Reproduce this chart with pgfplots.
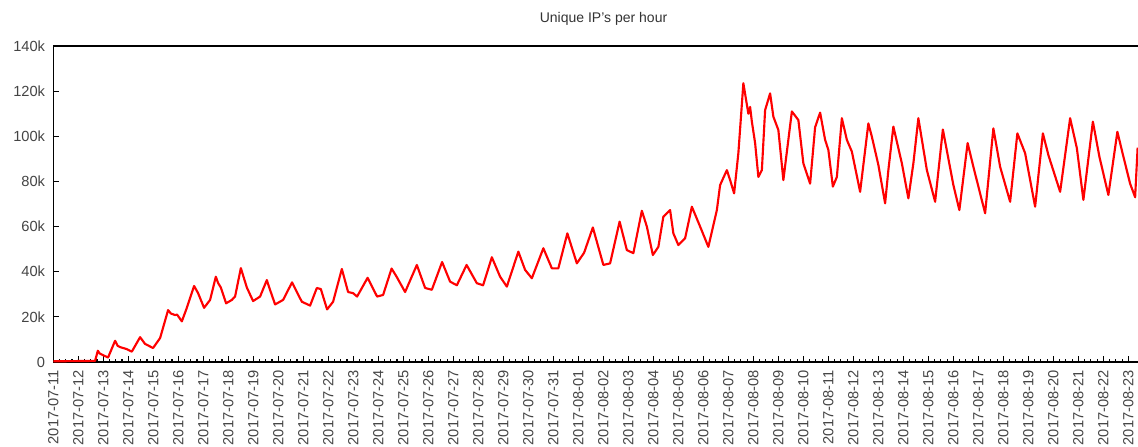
\documentclass[border=0pt]{standalone}
\usepackage{pgfplots}
\pgfplotsset{compat=1.18}
\usepackage{fontspec}
\setmainfont{Liberation Sans}
\definecolor{txt}{HTML}{444444}
\pgfplotstableread{
d v
0.00 0.3
1.67 0.5
1.78 5.0
1.85 3.8
1.99 3.0
2.19 2.0
2.47 9.4
2.57 7.2
2.67 6.6
2.94 5.7
3.14 4.6
3.47 11.0
3.67 8.0
3.99 6.2
4.27 10.6
4.59 23.0
4.70 21.5
4.87 20.8
4.95 21.0
5.14 18.0
5.34 24.0
5.63 33.7
5.79 30.5
6.03 24.0
6.27 27.5
6.50 37.8
6.59 35.0
6.70 33.0
6.91 26.0
7.14 27.5
7.27 29.0
7.50 41.6
7.74 33.0
7.99 27.0
8.27 29.0
8.54 36.3
8.62 33.5
8.87 25.5
9.19 27.5
9.55 35.3
9.74 31.0
9.94 26.7
10.27 25.0
10.54 32.8
10.70 32.3
10.95 23.3
11.19 26.7
11.54 41.2
11.79 31.0
11.99 30.5
12.15 29.0
12.57 37.3
12.95 29.0
13.19 29.7
13.53 41.4
13.73 37.8
14.07 31.0
14.54 43.0
14.87 32.8
15.14 32.0
15.55 44.3
15.87 35.6
16.14 34.0
16.53 43.0
16.94 34.9
17.19 34.0
17.54 46.4
17.87 37.8
18.14 33.4
18.60 48.9
18.87 40.8
19.14 37.1
19.60 50.4
19.94 41.5
20.20 41.5
20.56 57.0
20.94 43.7
21.23 48.4
21.58 59.6
22.00 43.0
22.27 43.7
22.65 62.2
22.94 49.6
23.20 48.2
23.54 67.0
23.74 60.0
23.98 47.4
24.20 51.0
24.40 64.4
24.67 67.3
24.80 57.0
25.00 51.8
25.27 54.8
25.54 68.8
25.87 60.0
26.20 51.0
26.54 67.3
26.67 78.4
26.94 85.0
27.07 80.6
27.23 74.7
27.40 92.5
27.60 123.5
27.80 110.0
27.87 113.0
27.94 106.5
28.07 97.0
28.20 82.0
28.34 85.0
28.47 111.6
28.67 119.0
28.80 108.7
29.00 102.8
29.20 80.6
29.54 111.0
29.80 107.2
30.00 88.0
30.27 79.0
30.47 104.0
30.67 110.5
30.87 98.4
31.00 94.0
31.18 77.7
31.34 82.0
31.54 108.0
31.74 98.4
31.94 93.2
32.27 75.4
32.60 105.7
32.74 99.8
33.00 87.3
33.27 70.3
33.40 85.0
33.60 104.3
33.94 88.0
34.20 72.5
34.40 88.0
34.60 108.0
34.94 85.0
35.27 71.0
35.58 103.0
36.00 78.4
36.24 67.3
36.57 97.0
36.80 86.5
37.27 65.9
37.60 103.5
37.87 86.5
38.27 71.0
38.56 101.3
38.87 92.5
39.27 68.8
39.58 101.3
39.80 91.7
40.27 75.4
40.67 108.0
40.94 94.7
41.20 71.8
41.58 106.5
41.84 91.0
42.20 74.0
42.56 102.0
42.80 91.0
43.07 79.0
43.27 73.0
43.37 95.0
}\traffic
\begin{document}
\begin{tikzpicture}
\begin{axis}[
  scale only axis,
  width=819.4pt, height=237pt,
  xmin=0, xmax=43.7,
  ymin=0, ymax=140,
  axis line style={line width=1.2pt, black},
  tick align=inside,
  xtick={0,...,43},
  minor x tick num=3,
  xtick pos=bottom, ytick pos=left,
  major tick length=4.5pt, minor tick length=2.4pt,
  every tick/.style={black, line width=0.9pt},
  xticklabels={2017-07-11,2017-07-12,2017-07-13,2017-07-14,2017-07-15,2017-07-16,2017-07-17,2017-07-18,2017-07-19,2017-07-20,2017-07-21,2017-07-22,2017-07-23,2017-07-24,2017-07-25,2017-07-26,2017-07-27,2017-07-28,2017-07-29,2017-07-30,2017-07-31,2017-08-01,2017-08-02,2017-08-03,2017-08-04,2017-08-05,2017-08-06,2017-08-07,2017-08-08,2017-08-09,2017-08-10,2017-08-11,2017-08-12,2017-08-13,2017-08-14,2017-08-15,2017-08-16,2017-08-17,2017-08-18,2017-08-19,2017-08-20,2017-08-21,2017-08-22,2017-08-23},
  xticklabel style={rotate=90, anchor=east, font=\fontsize{11}{12}\selectfont, text=txt, inner sep=0pt},
  xticklabel shift=6pt,
  ytick={0,20,...,140},
  yticklabels={0,20k,40k,60k,80k,100k,120k,140k},
  yticklabel style={font=\fontsize{11}{12}\selectfont, text=txt, inner sep=0pt},
  yticklabel shift=6pt,
  title={Unique IP's per hour},
  title style={font=\fontsize{10.5}{12}\selectfont, text=black!80, at={(0.5036,1)}, anchor=center, yshift=14.25pt},
]
\addplot[red, line width=1.6pt, line join=round] table[x=d, y=v] {\traffic};
\end{axis}
\pgfresetboundingbox
\useasboundingbox (-40pt,-63pt) rectangle (813.5pt,271.5pt);
\end{tikzpicture}
\end{document}
